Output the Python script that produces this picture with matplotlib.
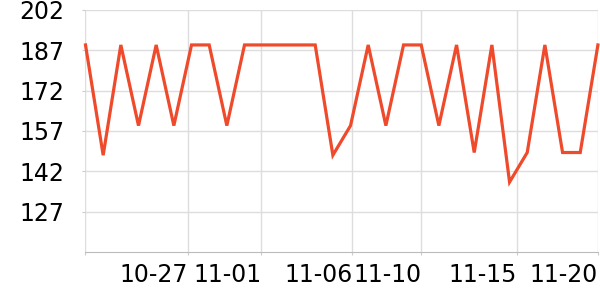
import matplotlib
matplotlib.use("Agg")
import matplotlib.pyplot as plt

values = [189, 148, 189, 159, 189, 159, 189, 189, 159, 189,
          189, 189, 189, 189, 148, 159, 189, 159, 189, 189,
          159, 189, 149, 189, 138, 149, 189, 149, 149, 189]
x_ticks_pos = [0, 5.81, 9.95, 15.1, 19.0, 24.43, 29]
x_tick_labels = ['', '10-27', '11-01', '11-06', '11-10', '11-15', '11-20']
y_ticks = [127, 142, 157, 172, 187, 202]

fig = plt.figure(figsize=(6, 3), dpi=100)
ax = fig.add_axes([0.1425, 0.16, 0.854, 0.8067])
ax.plot(range(len(values)), values, color='#ef4a2b', lw=2.3, solid_joinstyle='miter', zorder=3, clip_on=False)
ax.set_xlim(0, len(values) - 1)
ax.set_ylim(112, 202)
ax.set_yticks(y_ticks)
ax.set_xticks(x_ticks_pos)
ax.set_xticklabels(x_tick_labels, ha='right')
ax.grid(True, color='#dddddd', lw=1)
ax.set_axisbelow(True)
for s in ['top', 'right', 'left']:
    ax.spines[s].set_visible(False)
ax.spines['bottom'].set_color('#bbbbbb')
ax.tick_params(axis='both', colors='#cccccc', labelcolor='black', labelsize=17, length=2.2)
ax.tick_params(axis='y', pad=13)
ax.tick_params(axis='x', pad=6)
fig.savefig('out.png', dpi=100)
